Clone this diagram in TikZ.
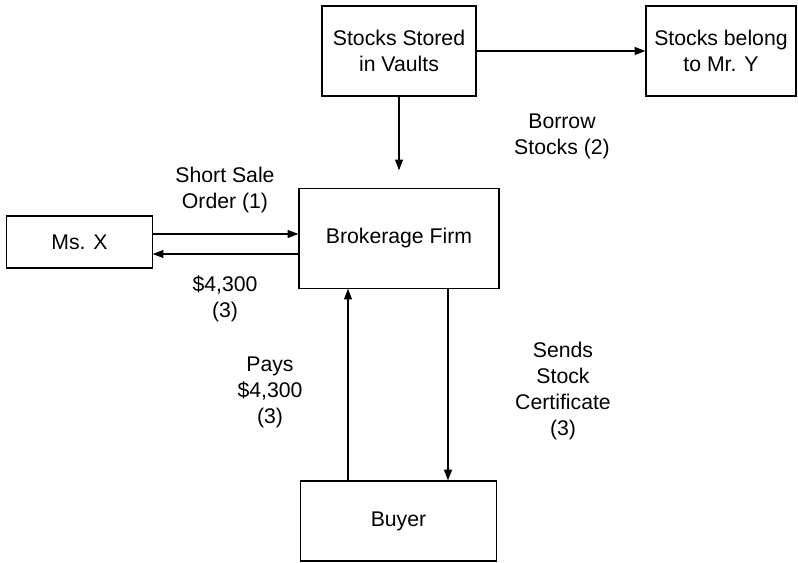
\documentclass[tikz,border=0pt]{standalone}
\usepackage{fontspec}
\setmainfont{Liberation Sans}
\usetikzlibrary{arrows.meta}

\tikzset{
  box/.style={draw, line width=0.8pt, inner sep=0pt, align=center},
  arr/.style={line width=0.8pt, -{Triangle[length=0.27cm,width=0.2cm]}},
  lbl/.style={align=center, inner sep=0pt}
}

\begin{document}
\begin{tikzpicture}[x=0.025cm, y=-0.025cm]
        \fontsize{15.1}{18.6}\selectfont
        \useasboundingbox (0,0) rectangle (798,562);

        \node[box, minimum width=3.85cm, minimum height=2.25cm] (vault) at (399,51) {Stocks Stored\\in Vaults};
        \node[box, minimum width=3.75cm, minimum height=2.25cm] (mry) at (721,51) {Stocks belong\\to Mr. Y};
        \node[box, minimum width=5cm, minimum height=2.48cm] (broker) at (399,238.5) {Brokerage Firm};
        \node[box, minimum width=3.63cm, minimum height=1.3cm] (msx) at (79.5,242) {Ms. X};
        \node[box, minimum width=4.88cm, minimum height=2cm] (buyer) at (398.5,521) {Buyer};

        \draw[arr] (vault) -- (mry);
        \draw[arr, shorten >=0.45cm] (vault) -- (broker);

        \draw[arr] ([yshift=0.2cm]msx.east) -- ([yshift=0.2cm]msx.east -| broker.west);
        \draw[arr] ([yshift=-0.3cm]msx.east -| broker.west) -- ([yshift=-0.3cm]msx.east);

        \draw[arr] ([xshift=-1.275cm]broker.south |- buyer.north) -- ([xshift=-1.275cm]broker.south);
        \draw[arr] ([xshift=1.225cm]broker.south) -- ([xshift=1.225cm]broker.south |- buyer.north);

        \node[lbl] (order) at (225,190) {Short Sale\\Order (1)};
        \node[lbl] (cash) at (225,299) {\$4,300\\(3)};
        \node[lbl] (borrow) at (562,136.5) {Borrow\\Stocks (2)};
        \node[lbl] (pays) at (270,392.5) {Pays\\\$4,300\\(3)};
        \node[lbl] (sends) at (563,391) {Sends\\Stock\\Certificate\\(3)};

\end{tikzpicture}
\end{document}
